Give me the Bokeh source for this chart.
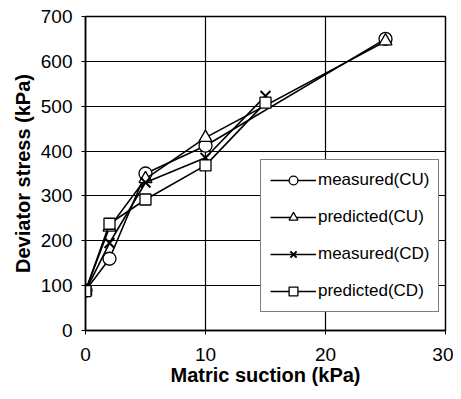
from bokeh.plotting import figure
from bokeh.embed import file_html
from bokeh.resources import INLINE
from bokeh.models import FixedTicker, Legend, LegendItem, Range1d

# data
x_mcu = [0, 2, 5, 10, 25]
y_mcu = [89, 160, 350, 412, 650]
x_pcu = [0, 2, 5, 10, 25]
y_pcu = [88, 230, 338, 430, 645]
x_mcd = [0, 2, 5, 10, 15]
y_mcd = [88, 195, 330, 385, 523]
x_pcd = [0, 2, 5, 10, 15]
y_pcd = [88, 238, 292, 368, 508]
x_ticks = [0, 10, 20, 30]
y_ticks = [0, 100, 200, 300, 400, 500, 600, 700]

FONT = "Liberation Sans"

p = figure(width=453, height=391, output_backend="svg", toolbar_location=None,
           x_range=Range1d(0, 30), y_range=Range1d(0, 700),
           min_border_left=85, min_border_right=8, min_border_top=16, min_border_bottom=61)
p.outline_line_color = "black"
p.outline_line_width = 1.5
p.background_fill_color = "white"

for ax in (p.xaxis, p.yaxis):
    ax.major_label_text_font = FONT
    ax.major_label_text_font_size = "19px"
    ax.major_label_text_color = "black"
    ax.axis_label_text_font = FONT
    ax.axis_label_text_font_size = "20px"
    ax.axis_label_text_font_style = "bold"
    ax.axis_label_text_color = "black"
    ax.minor_tick_line_color = None
    ax.major_tick_line_color = "black"
    ax.major_tick_out = 4
    ax.major_tick_in = 0
    ax.axis_line_color = "black"
    ax.axis_line_width = 1.5

p.xaxis.ticker = FixedTicker(ticks=x_ticks)
p.yaxis.ticker = FixedTicker(ticks=y_ticks)
p.xaxis.axis_label = "Matric suction (kPa)"
p.yaxis.axis_label = "Deviator stress (kPa)"
p.xaxis.major_label_standoff = 13
p.yaxis.major_label_standoff = 9
p.xaxis.axis_label_standoff = 0
p.yaxis.axis_label_standoff = 4

p.xgrid.grid_line_color = "black"
p.ygrid.grid_line_color = "black"
p.xgrid.grid_line_width = 1.2
p.ygrid.grid_line_width = 1.2

items = []
series = [
    ("measured(CU)", x_mcu, y_mcu, "circle", 13, 1.3),
    ("predicted(CU)", x_pcu, y_pcu, "triangle", 13, 1.3),
    ("measured(CD)", x_mcd, y_mcd, "x", 14, 2.0),
    ("predicted(CD)", x_pcd, y_pcd, "square", 11, 1.3),
]
for label, xs, ys, marker, size, lw in series:
    l = p.line(xs, ys, line_color="black", line_width=1.6)
    s = p.scatter(xs, ys, marker=marker, size=size, line_color="black",
                  fill_color="white", line_width=lw)
    items.append(LegendItem(label=label, renderers=[l, s]))

legend = Legend(items=items, location=(175, 18))
legend.label_text_font = FONT
legend.label_text_font_size = "17px"
legend.label_text_color = "black"
legend.border_line_color = "black"
legend.border_line_width = 1.5
legend.glyph_width = 46
legend.glyph_height = 22
legend.spacing = 15
legend.padding = 9
legend.margin = 0
legend.label_standoff = 2
legend.background_fill_alpha = 1
p.add_layout(legend)

open("out.html", "w").write(file_html(p, INLINE))
